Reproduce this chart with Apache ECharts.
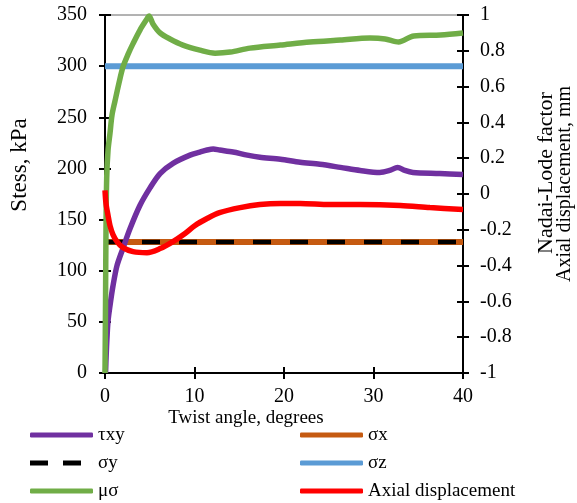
<!DOCTYPE html>
<html>
<head>
<meta charset="utf-8">
<script src="https://cdn.jsdelivr.net/npm/echarts@6/dist/echarts.min.js"></script>
<style>
  html, body { margin: 0; padding: 0; background: #fff; }
  #chart { width: 577px; height: 503px; }
</style>
</head>
<body>
<div id="chart"></div>
<script>
// twist angle (deg) vs value pairs
const tauXY = [
  [0.06, 0], [0.13, 17], [0.22, 34], [0.34, 51], [0.56, 66], [0.89, 85], [1.34, 105],
  [2.01, 122], [2.79, 141], [3.91, 164], [5.03, 181], [6.15, 195], [7.6, 205], [9.5, 213],
  [10.6, 216], [11.4, 218], [12.1, 219], [12.8, 218], [14.3, 216], [15.9, 213], [17.3, 211],
  [19.6, 209], [21.8, 206], [24.0, 204], [26.3, 201], [28.5, 198], [30.7, 196], [31.8, 198],
  [32.7, 201], [33.5, 198], [34.4, 196], [37.4, 195], [40, 194]
]
const sigmaX = [[0, 128], [40, 128]]
const sigmaY = [[0, 128], [40, 128]]
const sigmaZ = [[0, 300], [40, 300]]
const muSigma = [
  [0, -1], [0.06, -0.6], [0.11, -0.2], [0.19, 0.09], [0.34, 0.245], [0.56, 0.34], [0.78, 0.44],
  [1.12, 0.52], [1.56, 0.62], [2.01, 0.71], [2.57, 0.78], [3.13, 0.84], [3.91, 0.916],
  [4.69, 0.978], [4.92, 0.995], [5.36, 0.95], [6.15, 0.9], [7.26, 0.866], [8.71, 0.832],
  [10.6, 0.804], [12.3, 0.787], [14.0, 0.793], [16.2, 0.815], [19.6, 0.832], [22.9, 0.849],
  [26.3, 0.86], [29.6, 0.871], [31.3, 0.866], [32.8, 0.849], [34.5, 0.883], [37.5, 0.888], [40, 0.899]
]
const axialDisp = [
  [0, 0.02], [0.11, -0.053], [0.34, -0.12], [0.56, -0.177], [0.89, -0.227], [1.34, -0.266],
  [2.01, -0.3], [3.13, -0.322], [4.69, -0.328], [6.15, -0.305], [7.6, -0.266], [8.94, -0.221],
  [10.06, -0.176], [11.4, -0.137], [12.8, -0.104], [15.1, -0.076], [17.3, -0.059], [19.6, -0.053],
  [21.8, -0.053], [25.1, -0.059], [28.5, -0.059], [33.0, -0.064], [36.3, -0.076], [40, -0.087]
]

const font = 'Liberation Serif'
const chart = echarts.init(document.getElementById('chart'))

const tickStyle = { color: '#000', width: 2 }
const labelStyle = { color: '#000', fontFamily: font, fontSize: 20 }
// legend swatches: solid bar, and two dashes for σy (thin sliver at 63 keeps the full box width)
const solidIcon = 'roundRect'
const dashIcon = 'path://M0,0h18v5h-18z M33,0h18v5h-18z M62.99,0h0.01v5h-0.01z'

function lineSeries(name, data, color, yIdx, extra) {
  return Object.assign({
    name, type: 'line', data, xAxisIndex: 0, yAxisIndex: yIdx,
    showSymbol: false, symbol: 'none', smooth: 0.3,
    lineStyle: { color, width: 5.5 },
    itemStyle: { color },
  }, extra || {})
}

const legendBase = {
  orient: 'vertical', top: 425, padding: 0, itemWidth: 63, itemHeight: 5, itemGap: 8,
  itemStyle: { borderWidth: 0 },
  textStyle: { color: '#000', fontFamily: font, fontSize: 19, lineHeight: 20 },
}

chart.setOption({
  animation: false,
  grid: { left: 105, right: 114, top: 15, bottom: 130, show: true, borderColor: '#666', borderWidth: 1 },
  xAxis: [
    {
      type: 'value', min: 0, max: 40, interval: 10, position: 'bottom',
      axisLine: { onZero: false, lineStyle: { color: '#000', width: 2 } },
      axisTick: { inside: false, length: 6, lineStyle: tickStyle },
      axisLabel: Object.assign({ margin: 14 }, labelStyle),
      splitLine: { show: false },
    },
    {
      type: 'value', min: 0, max: 40, interval: 10, position: 'bottom',
      axisLine: { show: false, onZero: false },
      axisTick: { inside: true, length: 6, lineStyle: tickStyle },
      axisLabel: { show: false }, splitLine: { show: false },
    },
  ],
  yAxis: [
    {
      type: 'value', min: 0, max: 350, interval: 50, position: 'left',
      axisLine: { show: true, onZero: false, lineStyle: { color: '#000', width: 2 } },
      axisTick: { show: true, inside: false, length: 6, lineStyle: tickStyle },
      axisLabel: Object.assign({ margin: 18 }, labelStyle),
      splitLine: { show: false },
    },
    {
      type: 'value', min: -1, max: 1, interval: 0.2, position: 'right',
      axisLine: { show: true, onZero: false, lineStyle: { color: '#000', width: 2 } },
      axisTick: { show: true, inside: false, length: 6, lineStyle: tickStyle },
      axisLabel: Object.assign({ margin: 17, formatter: v => String(Math.round(v * 10) / 10) }, labelStyle),
      splitLine: { show: false },
    },
    {
      type: 'value', min: 0, max: 350, interval: 50, position: 'left',
      axisLine: { show: false, onZero: false },
      axisTick: { show: true, inside: true, length: 6, lineStyle: tickStyle },
      axisLabel: { show: false }, splitLine: { show: false },
    },
    {
      type: 'value', min: -1, max: 1, interval: 0.2, position: 'right',
      axisLine: { show: false, onZero: false },
      axisTick: { show: true, inside: true, length: 6, lineStyle: tickStyle },
      axisLabel: { show: false }, splitLine: { show: false },
    },
  ],
  legend: [
    Object.assign({
      left: 30,
      data: [
        { name: 'τxy', icon: solidIcon },
        { name: 'σy', icon: dashIcon, itemStyle: { borderWidth: 0, color: '#000' } },
        { name: 'μσ', icon: solidIcon },
      ],
    }, legendBase),
    Object.assign({
      left: 300,
      data: [{ name: 'σx', icon: solidIcon }, { name: 'σz', icon: solidIcon }, { name: 'Axial displacement', icon: solidIcon }],
    }, legendBase),
  ],
  graphic: [
    { type: 'text', x: 20, y: 165, rotation: Math.PI / 2,
      style: { text: 'Stess, kPa', font: `23px "${font}"`, fill: '#000', textAlign: 'center', textVerticalAlign: 'middle' } },
    { type: 'text', x: 546, y: 173, rotation: Math.PI / 2,
      style: { text: 'Nadai-Lode factor', font: `22px "${font}"`, fill: '#000', textAlign: 'center', textVerticalAlign: 'middle' } },
    { type: 'text', x: 565, y: 184, rotation: Math.PI / 2,
      style: { text: 'Axial displacement, mm', font: `20px "${font}"`, fill: '#000', textAlign: 'center', textVerticalAlign: 'middle' } },
    { type: 'text', x: 246, y: 418,
      style: { text: 'Twist angle, degrees', font: `19px "${font}"`, fill: '#000', textAlign: 'center', textVerticalAlign: 'middle' } },
  ],
  series: [
    lineSeries('σx', sigmaX, '#C55A11', 0, { smooth: false, lineStyle: { color: '#C55A11', width: 6 } }),
    lineSeries('σy', sigmaY, '#000000', 0, { smooth: false, lineStyle: { color: '#000000', width: 4.5, type: [18, 19] } }),
    lineSeries('σz', sigmaZ, '#5B9BD5', 0, { smooth: false, lineStyle: { color: '#5B9BD5', width: 6 } }),
    lineSeries('τxy', tauXY, '#7030A0', 0),
    lineSeries('μσ', muSigma, '#70AD47', 1),
    lineSeries('Axial displacement', axialDisp, '#FF0000', 1),
  ],
})
</script>
</body>
</html>
